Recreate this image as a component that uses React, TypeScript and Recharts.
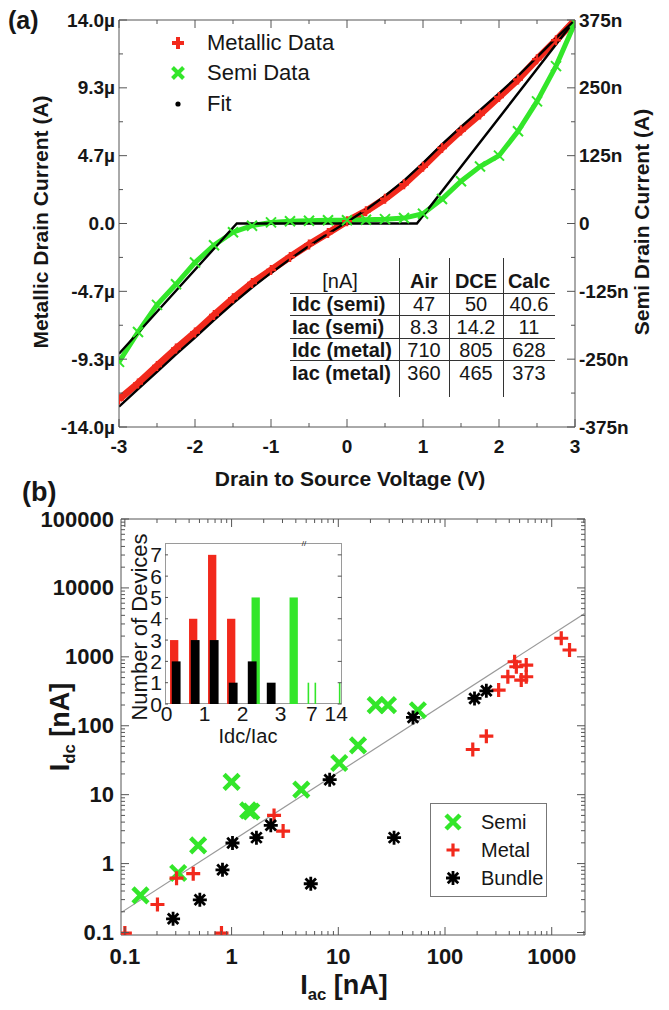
import React from 'react';
import { ComposedChart, Line, Scatter, Bar, XAxis, YAxis, ReferenceLine } from 'recharts';

const FONT = '"Liberation Sans", Arial, Helvetica, sans-serif';
const RED = '#f2291c';
const GREEN = '#33e62a';
const INK = '#161616';
const AXIS = '#555';

// ---- (a) drain sweep ----
const sweepVolts = [-3, -2.75, -2.5, -2.25, -2, -1.75, -1.5, -1.25, -1, -0.75, -0.5, -0.25, 0, 0.25, 0.5, 0.75, 1, 1.25, 1.5, 1.75, 2, 2.25, 2.5, 2.75, 3];
// metallic device, µA
const metalCurrent = [-12.1, -11.0, -9.8, -8.6, -7.5, -6.3, -5.15, -4.1, -3.2, -2.3, -1.45, -0.65, 0.15, 0.85, 1.7, 2.7, 3.9, 5.2, 6.4, 7.5, 8.7, 9.9, 11.3, 12.6, 14.0];
const metalFitCurrent = [-12.6, -11.4, -10.2, -9.0, -7.85, -6.65, -5.5, -4.4, -3.4, -2.45, -1.55, -0.7, 0.1, 0.95, 1.9, 2.95, 4.15, 5.45, 6.65, 7.8, 8.95, 10.15, 11.45, 12.75, 14.0];
// semiconducting device, nA
const semiCurrent = [-255, -200, -150, -112, -72, -40, -16, -4, 2, 4, 5, 6, 6, 7, 8, 10, 18, 45, 78, 105, 125, 170, 225, 290, 370];
const semiFitVolts = [-3, -1.45, 0.92, 3];
const semiFitCurrent = [-240, 0, 0, 375];

const voltMajors = [-3, -2, -1, 0, 1, 2, 3];
const voltLabels = ['-3', '-2', '-1', '0', '1', '2', '3'];
const metalMajors = [-14, -28 / 3, -14 / 3, 0, 14 / 3, 28 / 3, 14];
const metalLabels = ['-14.0µ', '-9.3µ', '-4.7µ', '0.0', '4.7µ', '9.3µ', '14.0µ'];
const semiMajors = [-375, -250, -125, 0, 125, 250, 375];
const semiLabels = ['-375n', '-250n', '-125n', '0', '125n', '250n', '375n'];

const tableHeader = ['[nA]', 'Air', 'DCE', 'Calc'];
const tableRowLabels = ['Idc (semi)', 'Iac (semi)', 'Idc (metal)', 'Iac (metal)'];
const tableAir = ['47', '8.3', '710', '360'];
const tableDce = ['50', '14.2', '805', '465'];
const tableCalc = ['40.6', '11', '628', '373'];

// ---- (b) Idc vs Iac ----
const semiIac = [0.14, 0.316, 0.486, 1.0, 1.43, 1.53, 4.5, 10.2, 15.3, 22.4, 29.2, 55.7];
const semiIdc = [0.345, 0.73, 1.84, 15.3, 5.9, 5.7, 11.8, 28.8, 52, 199, 199, 168];
const metalIac = [0.1, 0.202, 0.305, 0.437, 0.804, 2.5, 3.04, 182, 244, 318, 388, 449, 466, 577, 518, 577, 1228, 1468];
const metalIdc = [0.098, 0.255, 0.615, 0.713, 0.098, 5.0, 2.96, 45.2, 70.6, 329, 514, 849, 718, 759, 460, 514, 1862, 1256];
const bundleIac = [0.283, 0.504, 0.822, 1.02, 1.71, 2.33, 5.52, 8.3, 33.3, 50.1, 189, 244];
const bundleIdc = [0.158, 0.298, 0.813, 1.99, 2.38, 3.59, 0.51, 16.5, 2.38, 132, 249, 321];
const guideIac = [0.09, 2050];
const guideIdc = [0.19, 4300];

const iacMajors = [0.1, 1, 10, 100, 1000];
const iacLabels = ['0.1', '1', '10', '100', '1000'];
const idcMajors = [0.1, 1, 10, 100, 1000, 10000, 100000];
const idcLabels = ['0.1', '1', '10', '100', '1000', '10000', '100000'];

// ---- inset histogram ----
const histBins = [0.25, 0.75, 1.25, 1.75, 2.25, 2.75, 3.25];
const histMetal = [3, 4, 7, 4, 0, 0, 0];
const histSemi = [0, 0, 0, 0, 5, 0, 5];
const histBundle = [2, 3, 3, 1, 2, 1, 0];
const tailRatios = [6, 8, 15];
const tailSemi = [1, 1, 1];
const ratioTicks = [0, 1, 2, 3, 7, 14];
const ratioLabels = ['0', '1', '2', '3', '7', '14'];
const countTicks = [0, 1, 2, 3, 4, 5, 6, 7];

// broken ratio axis: linear up to 3.5, compressed after the break
const brk = (r: number) => (r <= 3.5 ? r : 3.82 + (r - 7) * 0.0914);

const withMidpoints = (vals: number[]) => {
  const out: number[] = [];
  vals.forEach((v, i) => {
    out.push(v);
    if (i < vals.length - 1) out.push((v + vals[i + 1]) / 2);
  });
  return out;
};
const logTicks = (lo: number, hi: number, decades: number[]) => {
  const out: number[] = [];
  decades.forEach((d) => {
    for (let k = 1; k <= 9; k++) {
      const v = d * k;
      if (v >= lo && v <= hi) out.push(v);
    }
  });
  return out;
};

const same = (a: number, b: number) => Math.abs(a - b) <= 1e-6 * Math.max(1, Math.abs(a), Math.abs(b));

type TickSpec = {
  side: 'left' | 'right' | 'top' | 'bottom';
  majors: number[];
  labels?: string[];
  major: number;
  minor: number;
  gap?: number;
  size?: number;
  weight?: number;
};

const tickRenderer = (spec: TickSpec) => (props: any) => {
  const { x, y, payload } = props;
  const idx = spec.majors.findIndex((m) => same(m, payload.value));
  const len = idx >= 0 ? spec.major : spec.minor;
  const label = idx >= 0 && spec.labels ? spec.labels[idx] : null;
  const gap = spec.gap ?? 0;
  let x2 = x, y2 = y, tx = x, ty = y;
  let anchor: 'start' | 'middle' | 'end' = 'middle';
  if (spec.side === 'bottom') { y2 = y - len; ty = y + gap; }
  if (spec.side === 'top') { y2 = y + len; ty = y - gap; }
  if (spec.side === 'left') { x2 = x + len; tx = x - gap; anchor = 'end'; }
  if (spec.side === 'right') { x2 = x - len; tx = x + gap; anchor = 'start'; }
  return (
    <g>
      {len > 0 && <line x1={x} y1={y} x2={x2} y2={y2} stroke={AXIS} strokeWidth={1} />}
      {label !== null && (
        <text x={tx} y={ty} textAnchor={anchor} dominantBaseline="central" fontFamily={FONT}
          fontSize={spec.size} fontWeight={spec.weight} fill={INK}>
          {label}
        </text>
      )}
    </g>
  );
};

const plusPath = (cx: number, cy: number, r: number) => `M${cx - r},${cy}H${cx + r}M${cx},${cy - r}V${cy + r}`;
const crossPath = (cx: number, cy: number, r: number) =>
  `M${cx - r},${cy - r}L${cx + r},${cy + r}M${cx - r},${cy + r}L${cx + r},${cy - r}`;

const Mark = ({ kind, cx, cy, r, sw, color }: { kind: 'plus' | 'cross' | 'star'; cx: number; cy: number; r: number; sw: number; color: string }) => {
  const d = kind === 'plus' ? plusPath(cx, cy, r) : kind === 'cross' ? crossPath(cx, cy, r) : plusPath(cx, cy, r) + crossPath(cx, cy, r * 0.75);
  return <path d={d} stroke={color} strokeWidth={sw} fill="none" strokeLinecap="butt" />;
};

const Label = ({ x, y, size, weight = 400, rotate = false, left = false, children }: any) => (
  <div
    style={{
      position: 'absolute', left: x, top: y, fontSize: size, fontWeight: weight, lineHeight: 1,
      whiteSpace: 'nowrap', color: INK,
      transform: left ? 'translate(0,-50%)' : `translate(-50%,-50%)${rotate ? ' rotate(-90deg)' : ''}`,
    }}
  >
    {children}
  </div>
);

const sub = { fontSize: '0.62em', verticalAlign: '-0.4em' };

export default function App() {
  const metalRows = sweepVolts.map((v, i) => ({ v, i: metalCurrent[i] }));
  const metalFitRows = sweepVolts.map((v, i) => ({ v, i: metalFitCurrent[i] }));
  const semiRows = sweepVolts.map((v, i) => ({ v, i: semiCurrent[i] }));
  const semiFitRows = semiFitVolts.map((v, i) => ({ v, i: semiFitCurrent[i] }));

  const semiPts = semiIac.map((x, i) => ({ x, y: semiIdc[i] }));
  const metalPts = metalIac.map((x, i) => ({ x, y: metalIdc[i] }));
  const bundlePts = bundleIac.map((x, i) => ({ x, y: bundleIdc[i] }));
  const guidePts = guideIac.map((x, i) => ({ x, y: guideIdc[i] }));

  const histRows = histBins.map((b, i) => ({ pos: brk(b), metal: histMetal[i], semi: histSemi[i], bundle: histBundle[i] }));
  const tailRows = tailRatios.map((r, i) => ({ pos: brk(r), semi: tailSemi[i] }));

  const voltAll = withMidpoints(voltMajors);
  const metalAll = withMidpoints(metalMajors);
  const semiAll = withMidpoints(semiMajors);
  const iacAll = logTicks(0.092, 2050, [0.1, 1, 10, 100, 1000]);
  const idcAll = logTicks(0.092, 100000, [0.1, 1, 10, 100, 1000, 10000, 100000]);

  const barShape = (fill: string, dx: number, w: number) => (p: any) =>
    p.height > 0 ? <rect x={p.x + p.width / 2 - w / 2 + dx} y={p.y} width={w} height={p.height} fill={fill} /> : <g />;

  const colCenters = [340, 424, 476, 529];
  const rowCenters = [304, 327, 350, 373];

  return (
    <div style={{ position: 'absolute', left: 0, top: 0, width: 669, height: 1010, background: '#fff', fontFamily: FONT, overflow: 'hidden' }}>
      {/* (a) */}
      <div style={{ position: 'absolute', left: 0, top: 0 }}>
        <ComposedChart width={669} height={490} margin={{ top: 10, right: 34, bottom: 33, left: 39 }}>
          <XAxis xAxisId="bottom" type="number" dataKey="v" domain={[-3, 3]} ticks={voltAll} interval={0}
            tickSize={0} tickMargin={0} tickLine={false} axisLine={{ stroke: AXIS }} height={30} allowDataOverflow
            tick={tickRenderer({ side: 'bottom', majors: voltMajors, labels: voltLabels, major: 8, minor: 4, gap: 19, size: 19, weight: 700 })} />
          <XAxis xAxisId="top" orientation="top" type="number" dataKey="v" domain={[-3, 3]} ticks={voltAll} interval={0}
            tickSize={0} tickMargin={0} tickLine={false} axisLine={{ stroke: AXIS }} height={10} allowDataOverflow
            tick={tickRenderer({ side: 'top', majors: voltMajors, major: 8, minor: 4 })} />
          <YAxis yAxisId="metal" type="number" domain={[-14, 14]} ticks={metalAll} interval={0}
            tickSize={0} tickMargin={0} tickLine={false} axisLine={{ stroke: AXIS }} width={80} allowDataOverflow
            tick={tickRenderer({ side: 'left', majors: metalMajors, labels: metalLabels, major: 8, minor: 4, gap: 4, size: 19, weight: 700 })} />
          <YAxis yAxisId="semi" orientation="right" type="number" domain={[-375, 375]} ticks={semiAll} interval={0}
            tickSize={0} tickMargin={0} tickLine={false} axisLine={{ stroke: AXIS }} width={60} allowDataOverflow
            tick={tickRenderer({ side: 'right', majors: semiMajors, labels: semiLabels, major: 8, minor: 4, gap: 4, size: 19, weight: 700 })} />
          <Line xAxisId="bottom" yAxisId="metal" data={metalRows} dataKey="i" stroke={RED} strokeWidth={7}
            dot={(p: any) => <Mark key={`m${p.index}`} kind="plus" cx={p.cx} cy={p.cy} r={5} sw={2.5} color={RED} />}
            isAnimationActive={false} />
          <Line xAxisId="bottom" yAxisId="semi" data={semiRows} dataKey="i" stroke={GREEN} strokeWidth={5}
            dot={(p: any) => <Mark key={`s${p.index}`} kind="cross" cx={p.cx} cy={p.cy} r={5} sw={2} color={GREEN} />}
            isAnimationActive={false} />
          <Line xAxisId="bottom" yAxisId="semi" data={semiFitRows} dataKey="i" stroke="#000" strokeWidth={2.4} dot={false} isAnimationActive={false} />
          <Line xAxisId="top" yAxisId="metal" data={metalFitRows} dataKey="i" stroke="#000" strokeWidth={2.4} dot={false} isAnimationActive={false} />
        </ComposedChart>
      </div>

      <Label x={8} y={20} size={25} weight={700} left>(a)</Label>
      <Label x={40} y={222} size={21} weight={700} rotate>Metallic Drain Current (A)</Label>
      <Label x={641} y={222} size={21} weight={700} rotate>Semi Drain Current (A)</Label>
      <Label x={350} y={478} size={21} weight={700}>Drain to Source Voltage (V)</Label>

      {/* (a) legend */}
      <svg style={{ position: 'absolute', left: 165, top: 30 }} width={30} height={90}>
        <Mark kind="plus" cx={13} cy={13} r={6} sw={4} color={RED} />
        <Mark kind="cross" cx={13} cy={43} r={5.5} sw={4} color={GREEN} />
        <circle cx={13} cy={74} r={2.6} fill="#000" />
      </svg>
      <Label x={207} y={43} size={22} left>Metallic Data</Label>
      <Label x={207} y={73} size={22} left>Semi Data</Label>
      <Label x={207} y={104} size={22} left>Fit</Label>

      {/* (a) table */}
      {[293, 315, 338, 360].map((y) => (
        <div key={`h${y}`} style={{ position: 'absolute', left: 290, top: y, width: 265, height: 1.2, background: '#333' }} />
      ))}
      {[399, 449, 503].map((x) => (
        <div key={`v${x}`} style={{ position: 'absolute', left: x, top: 258, width: 1.2, height: 139, background: '#333' }} />
      ))}
      {tableHeader.map((h, j) => (
        <Label key={h} x={colCenters[j]} y={281} size={20} weight={j === 0 ? 400 : 700}>{h}</Label>
      ))}
      {tableRowLabels.map((r, i) => (
        <React.Fragment key={r}>
          <Label x={292} y={rowCenters[i]} size={20} weight={700} left>{r}</Label>
          <Label x={colCenters[1]} y={rowCenters[i]} size={20}>{tableAir[i]}</Label>
          <Label x={colCenters[2]} y={rowCenters[i]} size={20}>{tableDce[i]}</Label>
          <Label x={colCenters[3]} y={rowCenters[i]} size={20}>{tableCalc[i]}</Label>
        </React.Fragment>
      ))}

      {/* (b) */}
      <div style={{ position: 'absolute', left: 0, top: 480 }}>
        <ComposedChart width={669} height={530} margin={{ top: 29, right: 74, bottom: 35, left: 51 }}>
          <XAxis xAxisId="b" type="number" scale="log" dataKey="x" domain={[0.092, 2050]} ticks={iacAll} interval={0}
            tickSize={0} tickMargin={0} tickLine={false} axisLine={{ stroke: AXIS }} height={40} allowDataOverflow
            tick={tickRenderer({ side: 'bottom', majors: iacMajors, labels: iacLabels, major: 8, minor: 4, gap: 21, size: 22, weight: 700 })} />
          <XAxis xAxisId="t" orientation="top" type="number" scale="log" dataKey="x" domain={[0.092, 2050]} ticks={iacAll} interval={0}
            tickSize={0} tickMargin={0} tickLine={false} axisLine={{ stroke: AXIS }} height={10} allowDataOverflow
            tick={tickRenderer({ side: 'top', majors: iacMajors, major: 8, minor: 4 })} />
          <YAxis yAxisId="l" type="number" scale="log" dataKey="y" domain={[0.092, 100000]} ticks={idcAll} interval={0}
            tickSize={0} tickMargin={0} tickLine={false} axisLine={{ stroke: AXIS }} width={70} allowDataOverflow
            tick={tickRenderer({ side: 'left', majors: idcMajors, labels: idcLabels, major: 8, minor: 4, gap: 7, size: 22, weight: 700 })} />
          <YAxis yAxisId="r" orientation="right" type="number" scale="log" dataKey="y" domain={[0.092, 100000]} ticks={idcAll} interval={0}
            tickSize={0} tickMargin={0} tickLine={false} axisLine={{ stroke: AXIS }} width={10} allowDataOverflow
            tick={tickRenderer({ side: 'right', majors: idcMajors, major: 8, minor: 4 })} />
          <Scatter xAxisId="t" yAxisId="r" data={guidePts} line={{ stroke: '#9a9a9a', strokeWidth: 1.2 }} shape={() => <g />} isAnimationActive={false} />
          <Scatter xAxisId="b" yAxisId="l" data={semiPts} isAnimationActive={false}
            shape={(p: any) => <Mark kind="cross" cx={p.cx} cy={p.cy} r={7.5} sw={4.5} color={GREEN} />} />
          <Scatter xAxisId="b" yAxisId="l" data={metalPts} isAnimationActive={false}
            shape={(p: any) => <Mark kind="plus" cx={p.cx} cy={p.cy} r={7} sw={3.2} color={RED} />} />
          <Scatter xAxisId="b" yAxisId="l" data={bundlePts} isAnimationActive={false}
            shape={(p: any) => <Mark kind="star" cx={p.cx} cy={p.cy} r={7} sw={2.8} color="#000" />} />
        </ComposedChart>
      </div>

      <Label x={22} y={492} size={27} weight={700} left>(b)</Label>
      <Label x={63} y={727} size={27} weight={700} rotate>I<span style={sub}>dc</span> [nA]</Label>
      <Label x={344} y={988} size={27} weight={700}>I<span style={sub}>ac</span> [nA]</Label>

      {/* (b) legend */}
      <div style={{ position: 'absolute', left: 430, top: 803, width: 115, height: 92, border: '1px solid #777', background: '#fff' }} />
      <svg style={{ position: 'absolute', left: 440, top: 808 }} width={30} height={84}>
        <Mark kind="cross" cx={13} cy={14} r={7} sw={4.5} color={GREEN} />
        <Mark kind="plus" cx={13} cy={42} r={6.5} sw={3.2} color={RED} />
        <Mark kind="star" cx={13} cy={70} r={7} sw={2.8} color="#000" />
      </svg>
      <Label x={481} y={822} size={20} left>Semi</Label>
      <Label x={481} y={850} size={20} left>Metal</Label>
      <Label x={481} y={878} size={20} left>Bundle</Label>

      {/* inset */}
      <div style={{ position: 'absolute', left: 165, top: 542.7, width: 176.7, height: 161.3, background: '#fff', border: '1px solid #9a9a9a', boxSizing: 'border-box' }} />
      <div style={{ position: 'absolute', left: 100, top: 520 }}>
        <ComposedChart width={250} height={230} data={histRows} margin={{ top: 22.7, right: 6.3, bottom: 16, left: 40 }} barGap={-8}>
          <XAxis xAxisId="main" type="number" dataKey="pos" domain={[-0.044, 4.605]} ticks={ratioTicks.map(brk)} interval={0}
            tickSize={0} tickMargin={0} tickLine={false} axisLine={false} height={30} allowDataOverflow
            tick={tickRenderer({ side: 'bottom', majors: ratioTicks.map(brk), labels: ratioLabels, major: 0, minor: 0, gap: 9, size: 21, weight: 400 })} />
          <YAxis yAxisId="l" type="number" domain={[0, 7.57]} ticks={countTicks} interval={0}
            tickSize={0} tickMargin={0} tickLine={false} axisLine={false} width={25} allowDataOverflow
            tick={tickRenderer({ side: 'left', majors: countTicks, labels: countTicks.map(String), major: 3, minor: 0, gap: 3, size: 21, weight: 400 })} />
          <YAxis yAxisId="r" orientation="right" type="number" domain={[0, 7.57]} ticks={countTicks} interval={0}
            tickSize={0} tickMargin={0} tickLine={false} axisLine={false} width={2} allowDataOverflow
            tick={tickRenderer({ side: 'right', majors: countTicks, major: 4, minor: 0 })} />
          <Bar xAxisId="main" yAxisId="l" dataKey="metal" barSize={8} shape={barShape(RED, -2.5, 8.3)} isAnimationActive={false} />
          <Bar xAxisId="main" yAxisId="l" dataKey="semi" barSize={8} shape={barShape(GREEN, 3, 8.3)} isAnimationActive={false} />
          <Bar xAxisId="main" yAxisId="l" dataKey="bundle" barSize={8} shape={barShape('#000', -0.5, 8.8)} isAnimationActive={false} />
          {tailRows.map((r) => (
            <ReferenceLine key={r.pos} xAxisId="main" yAxisId="r" segment={[{ x: r.pos, y: 0 }, { x: r.pos, y: r.semi }]}
              stroke={GREEN} strokeWidth={1.6} />
          ))}
        </ComposedChart>
      </div>
      <Label x={140} y={627} size={22} rotate>Number of Devices</Label>
      <Label x={248} y={736} size={20}>Idc/Iac</Label>
      <Label x={304} y={544} size={8}>//</Label>
    </div>
  );
}
